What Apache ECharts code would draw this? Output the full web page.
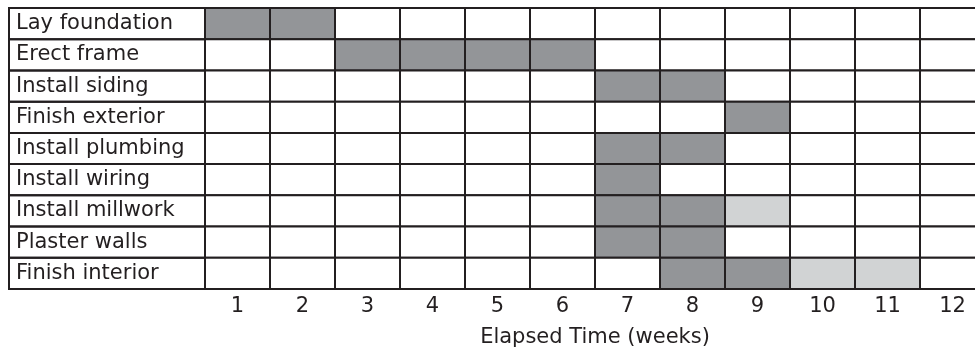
<!DOCTYPE html>
<html>
<head>
<meta charset="utf-8">
<script src="https://cdn.jsdelivr.net/npm/echarts@6/dist/echarts.min.js"></script>
<style>html,body{margin:0;padding:0;background:#fff}#c{width:975px;height:353px}</style>
</head>
<body>
<div id="c"></div>
<script>
const tasks = ["Lay foundation","Erect frame","Install siding","Finish exterior","Install plumbing","Install wiring","Install millwork","Plaster walls","Finish interior"];
const weeks = ["1","2","3","4","5","6","7","8","9","10","11","12"];
// per task: weeks scheduled (dark) and slack weeks (light)
const scheduled = [[1,2],[3,4,5,6],[7,8],[9],[7,8],[7],[7,8],[7,8],[8,9]];
const slack = [[],[],[],[],[],[],[9],[],[10,11]];

const FONT = "DejaVu Sans";
const DARK = "#939598", LIGHT = "#d1d3d4", LINE = "#231f20";

const cells = [];
tasks.forEach((t, ti) => {
  weeks.forEach((w, wi) => {
    const wk = wi + 1;
    let state = 0;
    if (scheduled[ti].includes(wk)) state = 2;
    else if (slack[ti].includes(wk)) state = 1;
    cells.push([wi, ti, state]);
  });
});
const labelCells = tasks.map((t, ti) => [0, ti]);

const chart = echarts.init(document.getElementById('c'), null, {renderer: 'canvas'});
chart.setOption({
  animation: false,
  grid: {left: 205, top: 8, width: 780, height: 281, containLabel: false, outerBoundsMode: 'none'},
  xAxis: {
    type: 'category', data: weeks, position: 'bottom',
    axisLine: {show: false}, axisTick: {show: false}, splitLine: {show: false},
    axisLabel: {color: LINE, fontFamily: FONT, fontSize: 21, margin: 7},
    name: 'Elapsed Time (weeks)', nameLocation: 'middle', nameGap: 38,
    nameTextStyle: {color: LINE, fontFamily: FONT, fontSize: 21}
  },
  yAxis: {
    type: 'category', data: tasks, inverse: true,
    axisLine: {show: false}, axisTick: {show: false}, splitLine: {show: false},
    axisLabel: {color: LINE, fontFamily: FONT, fontSize: 21, align: 'left', margin: 189}
  },
  series: [
    {
      type: 'custom', data: cells, z: 2,
      renderItem: function (params, api) {
        const c = api.coord([api.value(0), api.value(1)]);
        const s = api.size([1, 1]);
        const st = api.value(2);
        return {
          type: 'rect',
          shape: {x: c[0] - s[0] / 2, y: c[1] - s[1] / 2, width: s[0], height: s[1]},
          style: {fill: st === 2 ? DARK : (st === 1 ? LIGHT : '#ffffff'), stroke: LINE, lineWidth: 2}
        };
      }
    },
    {
      type: 'custom', data: labelCells, z: 1,
      renderItem: function (params, api) {
        const c = api.coord([0, api.value(1)]);
        const s = api.size([1, 1]);
        const left = params.coordSys.x - 196;
        return {
          type: 'rect',
          shape: {x: left, y: c[1] - s[1] / 2, width: params.coordSys.x - left, height: s[1]},
          style: {fill: 'none', stroke: LINE, lineWidth: 2}
        };
      }
    }
  ]
});
</script>
</body>
</html>
